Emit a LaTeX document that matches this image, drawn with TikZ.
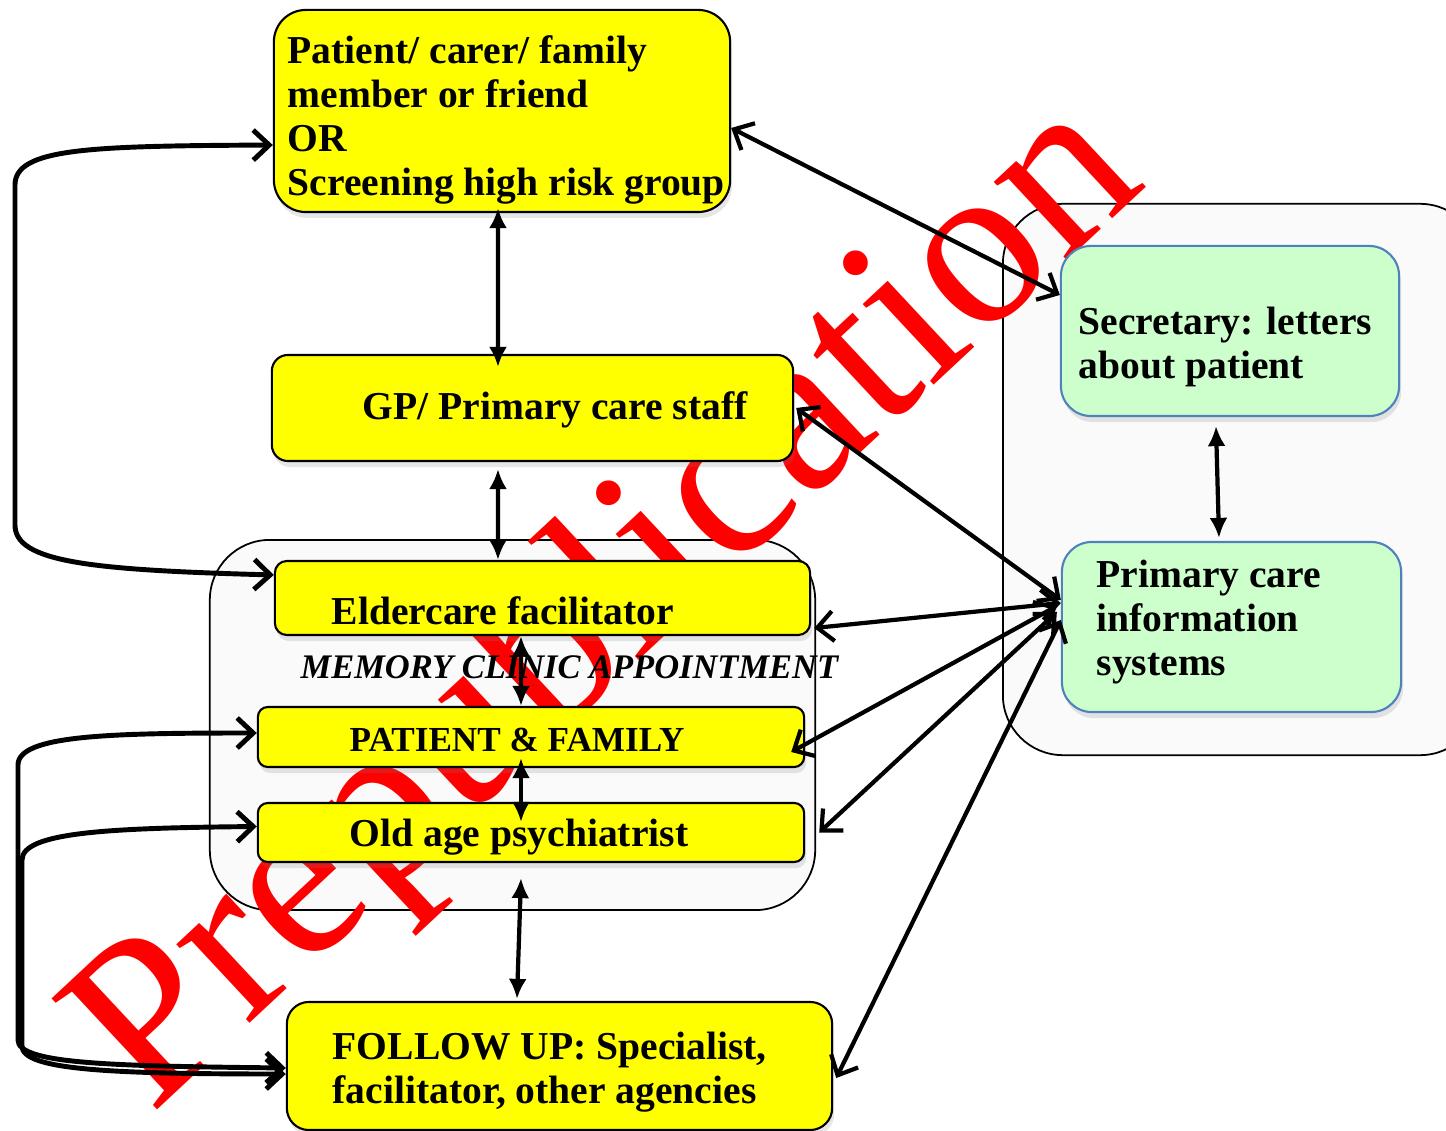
\documentclass[tikz,border=0pt]{standalone}
\usepackage{fontspec}
\setmainfont{Liberation Serif}
\usetikzlibrary{arrows.meta,shadows}
\definecolor{boxyellow}{HTML}{FFFF00}
\definecolor{boxgreen}{HTML}{CCFFCC}
\definecolor{boxblue}{HTML}{4F81BD}
\definecolor{grpfill}{HTML}{FAFAFA}
\definecolor{wmred}{HTML}{FF0000}
\tikzset{
  ybox/.style={draw, line width=0.6pt, fill=boxyellow, inner sep=0pt,
    drop shadow={shadow xshift=0.02cm, shadow yshift=-0.06cm, opacity=0.2}},
  gbox/.style={draw=boxblue, line width=0.6pt, fill=boxgreen, inner sep=0pt,
    drop shadow={shadow xshift=0.02cm, shadow yshift=-0.06cm, opacity=0.2}},
  group/.style={draw, line width=0.5pt, fill=grpfill, inner sep=0pt, rounded corners=0.6cm},
  lbl/.style={anchor=west, inner sep=0pt, align=left, font=\fontsize{11.25}{12.5}\selectfont\bfseries},
  caps/.style={lbl, font=\fontsize{10}{12.5}\selectfont\bfseries},
  twoway/.style={line width=1.2pt, {Latex[length=2mm,width=1.8mm]}-{Latex[length=2mm,width=1.8mm]}},
  barbs/.style={line width=1.2pt, {Straight Barb[length=1.6mm,width=3mm]}-{Straight Barb[length=1.6mm,width=3mm]}},
}
\begin{document}
\begin{tikzpicture}[x=0.01cm, y=-0.01cm]
	\useasboundingbox (0,0) rectangle (1446,1131);
	% grouping frames
	\node[group, minimum width=6.05cm, minimum height=3.70cm] (clinic) at (512.5,725) {};
	\node[group, minimum width=4.77cm, minimum height=5.51cm] (practice) at (1241.5,479.5) {};
	% watermark
	\node[text=wmred, inner sep=0pt, rotate=43, anchor=base, font=\fontsize{66.5}{66.5}\selectfont] (stamp) at (650,650) {Prepublication};
	% boxes
	\node[ybox, rounded corners=0.32cm, minimum width=4.56cm, minimum height=2.02cm] (pat) at (502,111) {};
	\node[ybox, rounded corners=0.16cm, minimum width=5.21cm, minimum height=1.06cm] (gp) at (532.5,408) {};
	\node[ybox, rounded corners=0.12cm, minimum width=5.35cm, minimum height=0.74cm] (elder) at (542.5,598) {};
	\node[ybox, rounded corners=0.1cm, minimum width=5.46cm, minimum height=0.60cm] (pf) at (531,737) {};
	\node[ybox, rounded corners=0.1cm, minimum width=5.46cm, minimum height=0.59cm] (old) at (531,832.5) {};
	\node[ybox, rounded corners=0.22cm, minimum width=5.45cm, minimum height=1.28cm] (fu) at (559.5,1066) {};
	\node[gbox, rounded corners=0.3cm, minimum width=3.38cm, minimum height=1.70cm] (sec) at (1230,331) {};
	\node[gbox, rounded corners=0.3cm, minimum width=3.39cm, minimum height=1.70cm] (pcis) at (1231.5,627) {};
	% texts
	\node[lbl] (pat-t) at (287,120) {Patient/ carer/ family\\member or friend\\OR\\Screening high risk group};
	\node[lbl] (gp-t) at (362,410) {GP/ Primary care staff};
	\node[lbl] (elder-t) at (331,611) {Eldercare facilitator};
	\node[lbl, font=\fontsize{9.8}{12}\selectfont\bfseries\itshape] (clinic-t) at (300,667) {MEMORY CLINIC APPOINTMENT};
	\node[caps] (pf-t) at (349,740) {PATIENT \& FAMILY};
	\node[lbl] (old-t) at (349,837) {Old age psychiatrist};
	\node[lbl] (fu-t) at (332,1072) {FOLLOW UP: Specialist,\\facilitator, other agencies};
	\node[lbl] (sec-t) at (1078,347) {Secretary: letters\\about patient};
	\node[lbl] (pcis-t) at (1096,622) {Primary care\\information\\systems};
	% vertical links
	\draw[twoway] ([xshift=-0.04cm, yshift=0.05cm]pat.south) -- ([xshift=-0.345cm, yshift=-0.13cm]gp.north);
	\draw[twoway] ([xshift=-0.345cm, yshift=-0.07cm]gp.south) -- ([xshift=-0.445cm]elder.north);
	\draw[twoway] ([xshift=-0.215cm]elder.south) -- ([xshift=-0.1cm]pf.north);
	\draw[twoway] ([xshift=-0.1cm, yshift=0.1cm]pf.south) -- ([xshift=-0.1cm, yshift=-0.2cm]old.north);
	\draw[twoway] ([xshift=-0.1cm, yshift=-0.15cm]old.south) -- ([xshift=-0.425cm, yshift=0.02cm]fu.north);
	\draw[twoway] ([xshift=-0.14cm, yshift=-0.09cm]sec.south) -- ([xshift=-0.125cm, yshift=0.03cm]pcis.north);
	% links to the practice side
	\draw[barbs] ([yshift=-0.17cm]pat.east) -- ([yshift=0.36cm]sec.west);
	\draw[barbs] ([xshift=0.02cm]gp.east) -- ([yshift=0.27cm]pcis.west);
	\draw[barbs] ([xshift=0.03cm, yshift=-0.3cm]elder.east) -- ([yshift=0.24cm]pcis.west);
	\draw[barbs] ([xshift=-0.14cm, yshift=-0.15cm]pf.east) -- ([xshift=-0.04cm, yshift=0.21cm]pcis.west);
	\draw[barbs] ([xshift=0.14cm]old.east) -- ([xshift=-0.04cm, yshift=0.15cm]pcis.west);
	\draw[barbs] ([xshift=0.03cm, yshift=-0.12cm]fu.east) -- ([yshift=0.07cm]pcis.west);
	% loops on the left
	\draw[barbs, line width=1.4pt] ([yshift=-0.34cm]pat.west) .. controls (90,146) and (15,148) .. (15,185) -- (15,525) .. controls (15,562) and (90,570) .. ([yshift=0.23cm]elder.west);
	\draw[barbs, line width=1.4pt] ([yshift=0.04cm]pf.west) .. controls (110,733) and (18,735) .. (18,765) -- (18,1040) .. controls (18,1064) and (110,1066) .. ([yshift=-0.02cm]fu.west);
	\draw[barbs, line width=1.4pt] ([yshift=0.06cm]old.west) .. controls (110,828) and (22,832) .. (22,860) -- (22,1046) .. controls (22,1070) and (110,1074) .. ([yshift=-0.08cm]fu.west);
\end{tikzpicture}
\end{document}
